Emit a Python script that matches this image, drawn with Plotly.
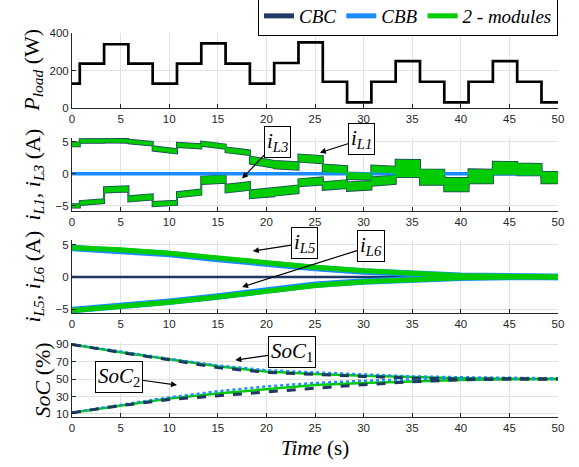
import plotly.graph_objects as go

# ---------------- data ----------------
# Panel 1: load power (W), piecewise constant
load_t = [0, 0.8, 3.3, 5.8, 8.3, 10.8, 13.3, 15.8, 18.3, 20.8, 23.3, 25.8, 28.3,
          30.8, 33.3, 35.8, 38.3, 40.8, 43.3, 45.8, 48.3, 50]
load_p = [130, 237, 340, 237, 130, 237, 345, 237, 130, 240, 350, 140, 30,
          140, 250, 140, 30, 140, 250, 140, 30, 30]

# Panel 2: inductor currents i_L1, i_L3 (A) per load segment (start/end centre, ripple width)
seg_t = load_t
iL1_start = [4.6, 5.12, 5.2, 5.05, 3.97, 4.52, 4.72, 3.75, 2.15, 1.45, 2.47, 0.9, -0.3,
             0.8, 1.55, 0.1, -1.15, 0.2, 1.4, 1.15, -0.15]
iL1_end = [4.6, 5.15, 5.15, 4.7, 3.52, 4.3, 4.25, 3.3, 1.5, 1.22, 2.2, 0.65, -0.4,
           0.6, 1.5, 0.05, -1.15, 0.15, 1.35, 1.1, -0.15]
iL1_width = [0.6, 0.55, 0.55, 0.55, 0.65, 0.65, 0.65, 0.72, 1.1, 1.15, 1.1, 1.1, 1.0,
             1.0, 1.3, 1.2, 1.0, 1.0, 1.0, 0.9, 0.9]
iL3_start = [-5.0, -4.55, -2.5, -3.9, -4.72, -3.27, -1.0, -2.3, -3.2, -2.8, -1.4, -1.9, -2.0,
             -1.2, 0.2, -1.1, -2.2, -0.9, 0.4, 0.25, -1.0]
iL3_end = [-5.0, -4.27, -2.35, -3.6, -4.52, -2.85, -0.82, -1.9, -2.9, -2.4, -1.1, -1.6, -1.8,
           -0.9, 0.2, -1.1, -2.2, -0.9, 0.4, 0.25, -1.0]
iL3_width = [0.5, 0.6, 0.8, 0.8, 0.65, 0.8, 1.15, 1.2, 1.2, 1.2, 1.1, 1.2, 1.3,
             1.3, 1.4, 1.2, 1.0, 1.1, 1.0, 0.9, 0.9]
cbb_p2_t = [0, 50]
cbb_p2_i = [0, 0]

# Panel 3: i_L5, i_L6 (A)
p3_t = [0, 5, 10, 15, 20, 25, 30, 35, 40, 45, 50]
iL5 = [4.5, 4.2, 3.65, 2.9, 2.1, 1.5, 0.95, 0.55, 0.2, 0.1, 0.0]
iL6 = [-5.15, -4.6, -3.9, -3.1, -2.2, -1.3, -0.75, -0.4, -0.1, 0.0, 0.0]
cbb_iL5 = [4.45, 4.1, 3.55, 2.75, 1.95, 1.4, 0.85, 0.5, 0.2, 0.1, 0.0]
cbb_iL6 = [-5.1, -4.5, -3.8, -3.0, -2.05, -1.2, -0.7, -0.35, -0.1, 0.0, 0.0]
cbc_p3_t = [0, 50]
cbc_p3_i = [0, 0]

# Panel 4: SoC (%)
soc_t = [0, 5, 10, 15, 20, 25, 30, 35, 40, 45, 50]
soc1_mod = [89.5, 80.5, 72.5, 64.5, 58.5, 55.7, 53.8, 51.9, 50.8, 50.2, 50.0]
soc1_cbb = [89.8, 81.0, 73.0, 65.5, 60.0, 57.5, 55.0, 53.0, 52.0, 51.0, 50.7]
soc1_cbc = [89.5, 80.3, 72.0, 63.0, 57.6, 55.0, 53.0, 51.0, 50.0, 50.0, 50.0]
soc2_mod = [11.5, 19.5, 27.8, 33.5, 38.5, 43.0, 45.5, 47.4, 48.9, 49.6, 50.0]
soc2_cbb = [11.8, 20.5, 29.0, 36.0, 41.5, 45.5, 48.0, 49.5, 50.0, 50.0, 50.0]
soc2_cbc = [11.5, 19.5, 26.5, 31.0, 35.5, 39.5, 43.5, 46.8, 49.0, 50.2, 50.0]

x_ticks = list(range(0, 51, 5))

NAVY = '#1f3864'
BLUE = '#1a8cff'
GREEN = '#00cc00'
AXC = '#262626'
GRID = '#e2e2e2'
SERIF = 'Liberation Serif, Times New Roman, serif'
SANS = 'Liberation Sans, Arial, sans-serif'


def band_polygon(t, c0, c1, w, pad=0.0):
    xs_top, ys_top, xs_bot, ys_bot = [], [], [], []
    for i in range(len(c0)):
        h = w[i] / 2 + pad
        xs_top += [t[i], t[i + 1]]
        ys_top += [c0[i] + h, c1[i] + h]
        xs_bot += [t[i], t[i + 1]]
        ys_bot += [c0[i] - h, c1[i] - h]
    xs = xs_top + xs_bot[::-1] + [xs_top[0]]
    ys = ys_top + ys_bot[::-1] + [ys_top[0]]
    return xs, ys


fig = go.Figure()

# legend entries
for name, col in [('CBC', NAVY), ('CBB', BLUE), ('2 - modules', GREEN)]:
    fig.add_trace(go.Scatter(x=[None], y=[None], mode='lines', name=name,
                             line=dict(color=col, width=5), showlegend=True))

# Panel 1
fig.add_trace(go.Scatter(x=load_t, y=load_p, mode='lines', line=dict(color='black', width=2.7, shape='hv'),
                         showlegend=False, xaxis='x', yaxis='y'))

# Panel 2
for c0, c1, w in [(iL1_start, iL1_end, iL1_width), (iL3_start, iL3_end, iL3_width)]:
    xs, ys = band_polygon(seg_t, c0, c1, w)
    fig.add_trace(go.Scatter(x=xs, y=ys, mode='lines', fill='toself', fillcolor=NAVY,
                             line=dict(color=NAVY, width=2), showlegend=False, xaxis='x2', yaxis='y2'))
fig.add_trace(go.Scatter(x=cbb_p2_t, y=cbb_p2_i, mode='lines', line=dict(color=BLUE, width=3.5),
                         showlegend=False, xaxis='x2', yaxis='y2'))
for c0, c1, w in [(iL1_start, iL1_end, iL1_width), (iL3_start, iL3_end, iL3_width)]:
    xs, ys = band_polygon(seg_t, c0, c1, w)
    fig.add_trace(go.Scatter(x=xs, y=ys, mode='lines', fill='toself', fillcolor=GREEN,
                             line=dict(color=GREEN, width=0.5), showlegend=False, xaxis='x2', yaxis='y2'))

# Panel 3
fig.add_trace(go.Scatter(x=cbc_p3_t, y=cbc_p3_i, mode='lines', line=dict(color=NAVY, width=2.5),
                         showlegend=False, xaxis='x3', yaxis='y3'))
for arr in (cbb_iL5, cbb_iL6):
    fig.add_trace(go.Scatter(x=p3_t, y=arr, mode='lines', line=dict(color=BLUE, width=6.5),
                             showlegend=False, xaxis='x3', yaxis='y3'))
for arr in (iL5, iL6):
    fig.add_trace(go.Scatter(x=p3_t, y=arr, mode='lines', line=dict(color=GREEN, width=5),
                             showlegend=False, xaxis='x3', yaxis='y3'))

# Panel 4
for arr in (soc1_mod, soc2_mod):
    fig.add_trace(go.Scatter(x=soc_t, y=arr, mode='lines', line=dict(color=GREEN, width=2.5),
                             showlegend=False, xaxis='x4', yaxis='y4'))
for arr in (soc1_cbb, soc2_cbb):
    fig.add_trace(go.Scatter(x=soc_t, y=arr, mode='lines', line=dict(color=BLUE, width=2.5, dash='dot'),
                             showlegend=False, xaxis='x4', yaxis='y4'))
for arr in (soc1_cbc, soc2_cbc):
    fig.add_trace(go.Scatter(x=soc_t, y=arr, mode='lines', line=dict(color=NAVY, width=3, dash='dash'),
                             showlegend=False, xaxis='x4', yaxis='y4'))

# ---------------- layout ----------------
T, B = 33, 50
H = 467 - T - B
W = 579 - 72 - 21


def dom(top_px, bot_px):
    return [(467 - B - bot_px) / H, (467 - B - top_px) / H]


def xax(anchor):
    return dict(domain=[0, 1], range=[0, 50], tickvals=x_ticks, ticks='inside', ticklen=4,
                tickcolor=AXC, showline=True, linecolor=AXC, linewidth=1, showgrid=True,
                gridcolor=GRID, gridwidth=1, zeroline=False, anchor=anchor, automargin=False,
                tickfont=dict(family=SANS, size=11.5, color=AXC))


def yax(anchor, domain, rng, ticks):
    return dict(domain=domain, range=rng, tickvals=ticks, ticks='inside', ticklen=4,
                tickcolor=AXC, showline=True, linecolor=AXC, linewidth=1, showgrid=True,
                gridcolor=GRID, gridwidth=1, zeroline=False, anchor=anchor, automargin=False,
                tickfont=dict(family=SANS, size=11.5, color=AXC))


fig.update_layout(
    width=579, height=467,
    margin=dict(l=72, r=21, t=T, b=B, autoexpand=False),
    paper_bgcolor='white', plot_bgcolor='white',
    xaxis=xax('y'), xaxis2=xax('y2'), xaxis3=xax('y3'), xaxis4=xax('y4'),
    yaxis=yax('x', dom(33, 108), [0, 400], [0, 200, 400]),
    yaxis2=yax('x2', dom(138, 211), [-5.8, 5.6], [-5, 0, 5]),
    yaxis3=yax('x3', dom(240, 313), [-5.55, 5.7], [-5, 0, 5]),
    yaxis4=yax('x4', dom(342.7, 416.7), [6.9, 91.5], [10, 30, 50, 70, 90]),
    legend=dict(orientation='h', x=1, xanchor='right', y=1 + (T + 4) / H, yanchor='top',
                bordercolor='black', borderwidth=1, bgcolor='white',
                font=dict(family=SERIF, size=19, style='italic', color='black'),
                itemwidth=30, tracegroupgap=0),
    showlegend=True,
)

ann = []
# y-axis titles
ytitles = [
    ('y domain', '<i>P</i><sub><i>load</i></sub> (W)', -0.082),
    ('y2 domain', '<i>i</i><sub><i>L1</i></sub><i>, i</i><sub><i>L3</i></sub> (A)', -0.08),
    ('y3 domain', '<i>i</i><sub><i>L5</i></sub><i>, i</i><sub><i>L6</i></sub> (A)', -0.08),
    ('y4 domain', '<i>SoC</i> (%)', -0.06),
]
for yref, txt, xp in ytitles:
    ann.append(dict(xref='paper', yref=yref, x=xp, y=0.5, text=txt, textangle=-90, showarrow=False,
                    xanchor='center', yanchor='middle', font=dict(family=SERIF, size=22, color='black')))
# x title
ann.append(dict(xref='paper', yref='paper', x=0.5, y=-0.08, yanchor='middle', showarrow=False,
                text='<i>Time</i> (s)', font=dict(family=SERIF, size=21, color='black')))

# labelled arrows
labels = [
    ('x2', 'y2', '<i>i</i><sub><i>L3</i></sub>', 17.5, -0.73, 21.1, 5.05),
    ('x2', 'y2', '<i>i</i><sub><i>L1</i></sub>', 25.5, 3.3, 29.8, 5.4),
    ('x3', 'y3', '<i>i</i><sub><i>L5</i></sub>', 18.6, 4.0, 23.9, 5.2),
    ('x3', 'y3', '<i>i</i><sub><i>L6</i></sub>', 17.5, -1.54, 30.8, 4.77),
    ('x4', 'y4', '<i>SoC</i><sub>1</sub>', 16.8, 71.7, 22.6, 80.9),
    ('x4', 'y4', '<i>SoC</i><sub>2</sub>', 10.8, 43.1, 4.8, 52.3),
]
for xr, yr, txt, x, y, axv, ayv in labels:
    ann.append(dict(xref=xr, yref=yr, x=x, y=y, axref=xr, ayref=yr, ax=axv, ay=ayv, text=txt,
                    showarrow=True, arrowhead=2, arrowsize=1, arrowwidth=1.2, arrowcolor='black',
                    bordercolor='black', borderwidth=1, borderpad=2, bgcolor='white',
                    font=dict(family=SERIF, size=21, color='black')))
fig.update_layout(annotations=ann)

fig.write_html('out.html', post_script="document.body.style.margin='0';",
               config={'displayModeBar': False})
